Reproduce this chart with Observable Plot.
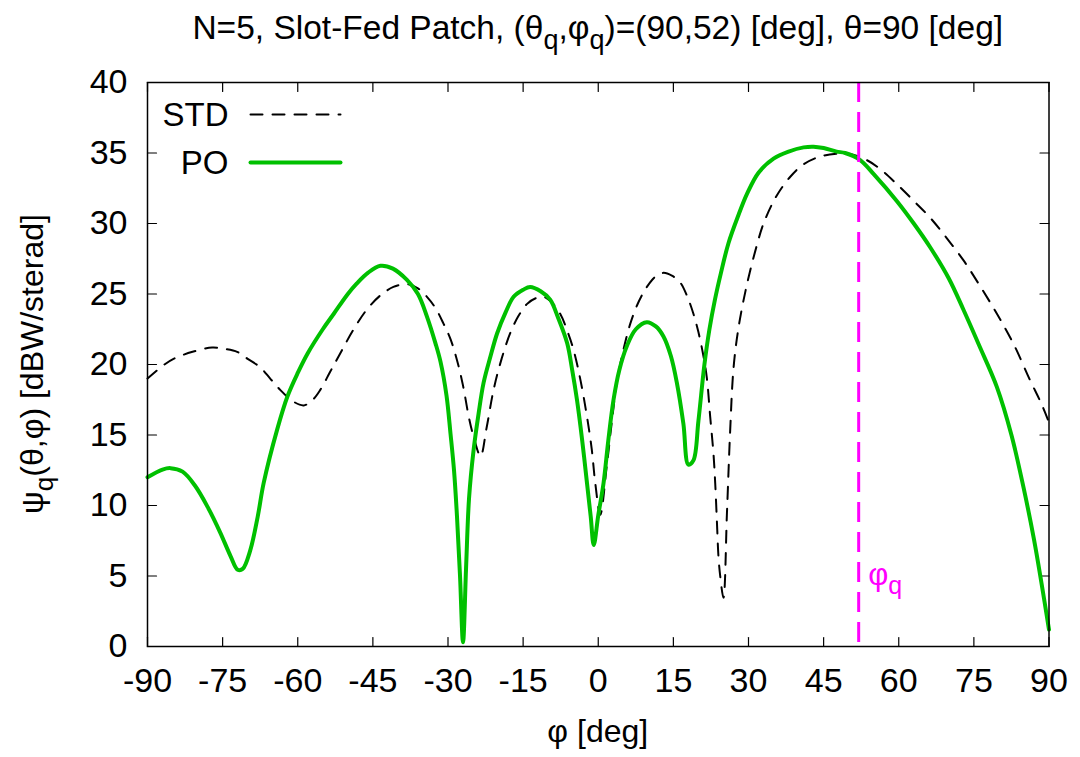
<!DOCTYPE html>
<html>
<head>
<meta charset="utf-8">
<script src="https://cdn.jsdelivr.net/npm/d3@7"></script>
<script src="https://cdn.jsdelivr.net/npm/@observablehq/plot@0.6"></script>
<style>
  body { margin: 0; background: #fff; }
  #chart svg { display: block; }
</style>
</head>
<body>
<div id="chart"></div>
<script>
// Azimuth cut of the radiation pattern, theta = 90 deg
const stdPhi = [-90, -87, -84.8, -81, -77.1, -74.5, -72.1, -70, -67.5, -65.5, -63.5, -61, -58.8, -57, -55.5, -53.5,
  -51.5, -49, -46.2, -43.5, -40.9, -38.2, -36, -34.2, -32.5, -30.9, -29.5, -28.2, -27, -25.8, -24.9, -23.5,
  -22.3, -20.9, -19.3, -17.6, -16, -14.2, -12.5, -10.9, -9.3, -7.6, -6.2, -4.9, -3.5, -2.25, -1.3, -0.6, 0.4,
  1.7, 2.7, 3.7, 5, 6.4, 8, 9.7, 11.3, 13, 14.7, 16.4, 17.8, 19, 20, 21, 21.7, 22.35, 23, 23.35, 23.7, 24,
  24.35, 25, 25.7, 26.35, 27, 28, 29.7, 31.7, 33, 35.5, 38.3, 41, 44.3, 47.6, 50, 53.6, 56.5, 59.6, 63, 66.3,
  69.5, 72.9, 76, 79.6, 83, 86.2, 88.5, 90];
const stdPsi = [19.0, 19.9, 20.4, 20.9, 21.2, 21.1, 20.9, 20.4, 19.8, 19.0, 18.2, 17.4, 17.1, 17.5, 18.2, 19.5,
  20.8, 22.4, 23.9, 24.9, 25.5, 25.7, 25.4, 24.8, 24.0, 22.9, 21.8, 20.3, 18.5, 16.2, 14.9, 13.5,
  15.5, 18.2, 20.4, 22.2, 23.4, 24.3, 24.7, 24.8, 24.4, 23.6, 22.4, 21.0, 18.8, 16.3, 14.0, 11.6, 9.35,
  12.8, 15.9, 18.7, 21.0, 22.9, 24.4, 25.5, 26.2, 26.5, 26.3, 25.8, 24.8, 23.6, 22.3, 20.6, 19.0, 16.3, 13.7, 11.6, 8.8, 6.4,
  5.0, 3.45, 9.5, 15.4, 19.7, 22.6, 25.7, 28.5, 30.0, 31.9, 33.3, 34.2, 34.75, 34.95, 34.95, 34.5, 33.8, 32.8, 31.6, 30.4,
  29.0, 27.4, 25.7, 23.6, 21.4, 18.9, 17.2, 15.9];

const poPhi = [-90, -87, -85.4, -83, -80.5, -78, -75.5, -73.4, -72, -71, -69.5, -68, -66.8, -64.1, -62.1, -60,
  -58, -55, -52.8, -50, -48.2, -46, -43.5, -41, -38.2, -36, -34.2, -32.5, -31.5, -30.3, -29.5, -28.8, -28.2,
  -27.6, -27, -26.4, -25.8, -24.9, -23.9, -22.9, -21.5, -20.2, -18.5, -16.9, -15, -13.6, -11.5, -9.6, -8,
  -6.2, -5.2, -4.25, -3.2, -2.25, -1.5, -0.9, 0, 1.06, 2, 3.05, 4.2, 5.7, 7.5, 9.7, 11.5, 13, 14.5, 15.7, 17,
  18, 19, 20, 21.2, 22.2, 23.3, 24.5, 26, 28, 29.7, 32, 35, 38, 41, 43, 45, 47.6, 49.3, 52.3, 55, 59.6, 63,
  66.3, 70, 72.9, 76, 79.6, 82.5, 84.9, 87, 88.5, 90];
const poPsi = [12.0, 12.55, 12.65, 12.4, 11.4, 9.9, 8.1, 6.4, 5.45, 5.5, 6.8, 9.2, 11.6, 15.4, 17.7, 19.4,
  20.8, 22.5, 23.6, 25.0, 25.75, 26.5, 27.0, 26.8, 26.0, 25.0, 23.4, 21.5, 20.2, 17.8, 15.1, 12.5, 9.2,
  5.0, 0.3, 5.5, 10.5, 13.9, 16.5, 18.7, 20.6, 22.2, 23.7, 24.8, 25.3, 25.5, 25.2, 24.6, 23.3,
  21.5, 19.6, 17.5, 14.6, 11.6, 9.2, 7.2, 9.3, 11.6, 14.6, 17.5, 19.6, 21.3, 22.5, 23.0, 22.7, 22.0, 20.6, 18.7, 15.8,
  12.9, 13.2, 16.0, 20.0, 22.5, 24.6, 26.5, 28.6, 30.6, 32.1, 33.6, 34.6, 35.1, 35.4, 35.45, 35.35, 35.1, 35.0, 34.5, 33.5, 31.6, 30.0,
  28.3, 26.1, 23.9, 21.4, 18.4, 15.0, 11.3, 7.6, 4.5, 1.2];

const phiQ = 52;                       // steering direction
const seriesNames = ["STD", "PO"];
const xTicks = [-90, -75, -60, -45, -30, -15, 0, 15, 30, 45, 60, 75, 90];
const yTicks = [0, 5, 10, 15, 20, 25, 30, 35, 40];

const std = stdPhi.map((phi, i) => ({phi, psi: stdPsi[i]}));
const po = poPhi.map((phi, i) => ({phi, psi: poPsi[i]}));

const FONT = '"Liberation Sans", Arial, Helvetica, sans-serif';
const GREEN = "#00c000";
const MAGENTA = "#ff00ff";

// straight inward tick (no arrowhead)
const tickShape = {draw(context, length) { context.moveTo(0, 0); context.lineTo(0, -length); }};
const inTick = {length: 9, anchor: "start", shape: tickShape, stroke: "black", strokeWidth: 1.2};

const plot = Plot.plot({
  width: 1080,
  height: 757,
  marginLeft: 147,
  marginRight: 31.5,
  marginTop: 82,
  marginBottom: 111,
  style: {fontFamily: FONT, fontSize: "34px", background: "white", color: "black", overflow: "visible"},
  x: {domain: [xTicks[0], xTicks[xTicks.length - 1]]},
  y: {domain: [yTicks[0], yTicks[yTicks.length - 1]]},
  marks: [
    Plot.axisX(xTicks, {tickSize: 0, tickPadding: 21, tickFormat: (d) => `${d}`, label: null}),
    Plot.axisY(yTicks, {tickSize: 0, tickPadding: 20, tickFormat: (d) => `${d}`, label: null}),
    // gnuplot-style inward ticks on all four sides
    Plot.vector(xTicks, {...inTick, x: (d) => d, frameAnchor: "bottom", rotate: 0}),
    Plot.vector(xTicks, {...inTick, x: (d) => d, frameAnchor: "top", rotate: 180}),
    Plot.vector(yTicks, {...inTick, y: (d) => d, frameAnchor: "left", rotate: 90}),
    Plot.vector(yTicks, {...inTick, y: (d) => d, frameAnchor: "right", rotate: -90}),
    Plot.line(std, {x: "phi", y: "psi", stroke: "black", strokeWidth: 2, strokeDasharray: "12,10", curve: "catmull-rom"}),
    Plot.line(po, {x: "phi", y: "psi", stroke: GREEN, strokeWidth: 4, curve: "catmull-rom"}),
    Plot.ruleX([phiQ], {stroke: MAGENTA, strokeWidth: 3, strokeDasharray: "20,10"}),
    Plot.frame({stroke: "black", strokeWidth: 1.5}),
    // key
    Plot.text([seriesNames[0]], {text: (d) => d, frameAnchor: "top-left", lineAnchor: "middle",
      dx: 81, dy: 33, textAnchor: "end", fontSize: 33}),
    Plot.text([seriesNames[1]], {text: (d) => d, frameAnchor: "top-left", lineAnchor: "middle",
      dx: 81, dy: 81, textAnchor: "end", fontSize: 33}),
    Plot.vector([seriesNames[0]], {frameAnchor: "top-left", dx: 103, dy: 32, length: 90, rotate: 90, anchor: "start",
      shape: tickShape, stroke: "black", strokeWidth: 2, strokeDasharray: "12,10"}),
    Plot.vector([seriesNames[1]], {frameAnchor: "top-left", dx: 103, dy: 80, length: 90, rotate: 90, anchor: "start",
      shape: tickShape, stroke: GREEN, strokeWidth: 4})
  ]
});

// Text with subscripts (title, axis labels, annotation)
const svg = d3.select(plot);
function richText(parts, {x, y, size, anchor = "middle", fill = "black", transform = null}) {
  const t = svg.append("text")
    .attr("x", x).attr("y", y)
    .attr("font-family", FONT)
    .attr("font-size", size)
    .attr("text-anchor", anchor)
    .attr("fill", fill);
  if (transform) t.attr("transform", transform);
  const subShift = Math.round(size * 0.3);
  let shift = 0;
  for (const [s, sub] of parts) {
    const ts = t.append("tspan").text(s);
    const target = sub ? subShift : 0;
    if (target !== shift) ts.attr("dy", target - shift);
    shift = target;
    if (sub) ts.attr("font-size", Math.round(size * 0.8));
  }
  return t;
}

const xs = plot.scale("x"), ys = plot.scale("y");
const frameMidX = (xs.apply(xTicks[0]) + xs.apply(xTicks[xTicks.length - 1])) / 2;
const frameMidY = (ys.apply(yTicks[0]) + ys.apply(yTicks[yTicks.length - 1])) / 2;

richText([["N=5, Slot-Fed Patch, (θ"], ["q", true], [",φ"], ["q", true], [")=(90,52) [deg], θ=90 [deg]"]],
  {x: frameMidX, y: 39, size: 33.5});
richText([["φ [deg]"]], {x: frameMidX, y: 742, size: 32});
richText([["ψ"], ["q", true], ["(θ,φ) [dBW/sterad]"]],
  {x: 0, y: 0, size: 32, transform: `translate(43,${frameMidY}) rotate(-90)`});
richText([["φ"], ["q", true]],
  {x: xs.apply(phiQ) + 10, y: ys.apply(yTicks[0]) - 61, size: 31, anchor: "start", fill: MAGENTA});

document.getElementById("chart").append(plot);
</script>
</body>
</html>
